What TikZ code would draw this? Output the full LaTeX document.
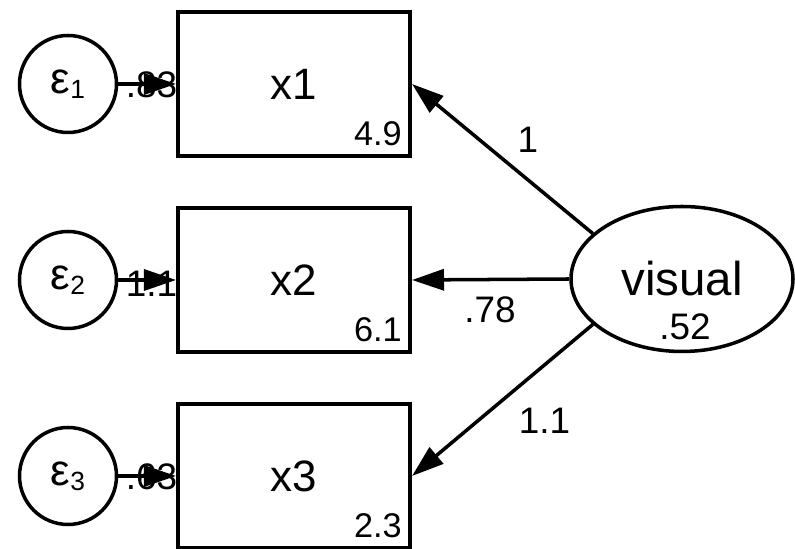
\documentclass[tikz,border=0pt]{standalone}
\usepackage{fontspec}
\setmainfont{Liberation Sans}
\usetikzlibrary{positioning,calc,arrows.meta,shapes.geometric}
\tikzset{
  obsbox/.style={draw, rectangle, minimum width=4.64cm, minimum height=2.88cm,
                 line width=2.3pt, font=\fontsize{25}{30}\selectfont},
  errc/.style  ={draw, circle, minimum size=1.94cm, inner sep=0pt,
                 line width=2pt, font=\fontsize{25}{30}\selectfont},
  latent/.style={draw, ellipse, minimum width=4.44cm, minimum height=2.9cm,
                 inner sep=0pt, line width=2pt, font=\fontsize{27}{30}\selectfont},
  flow/.style  ={-{Triangle[length=6.4mm,width=4.2mm]}, line width=2pt},
  est/.style   ={font=\fontsize{21}{24}\selectfont, inner sep=0pt},
  icpt/.style  ={font=\fontsize{19.5}{22}\selectfont, inner sep=0pt, anchor=base east},
}
\newcommand{\epsub}[1]{ε\raisebox{-3pt}{\fontsize{15}{15}\selectfont #1}}
\begin{document}
\begin{tikzpicture}
  \useasboundingbox (0,0) rectangle (15.9,10.98);
  % indicators
  \node[obsbox] (x1) at (5.88,9.30) {x1};
  \node[obsbox] (x2) at (5.88,5.38) {x2};
  \node[obsbox] (x3) at (5.88,1.46) {x3};
  \foreach \v/\m in {x1/4.9, x2/6.1, x3/2.3}
    \node[icpt] at ($(\v.south east)+(-0.2,0.25)$) {\m};
  % residuals
  \node[errc] (e1) at (1.36,9.30) {\epsub{1}};
  \node[errc] (e2) at (1.36,5.38) {\epsub{2}};
  \node[errc] (e3) at (1.36,1.46) {\epsub{3}};
  % latent factor
  \node[latent] (V) at (13.64,5.40) {visual};
  \node[est, anchor=base] at ($(V.south)+(0.06,0.27)$) {.52};
  % estimates (under the arrows)
  \node[est] at (3.03,9.28) {.83};
  \node[est] at (3.03,5.30) {1.1};
  \node[est] at (3.03,1.45) {.63};
  \node[est] at (10.56,8.18) {1};
  \node[est] at (9.80,4.78) {.78};
  \node[est] at (10.89,2.56) {1.1};
  % paths
  \draw[flow] (V.153) -- (x1.east);
  \draw[flow] (V.west) -- (x2.east);
  \draw[flow] (V.207) -- (x3.east);
  \foreach \i in {1,2,3}
    \draw[flow] (e\i) -- (x\i);
\end{tikzpicture}
\end{document}
